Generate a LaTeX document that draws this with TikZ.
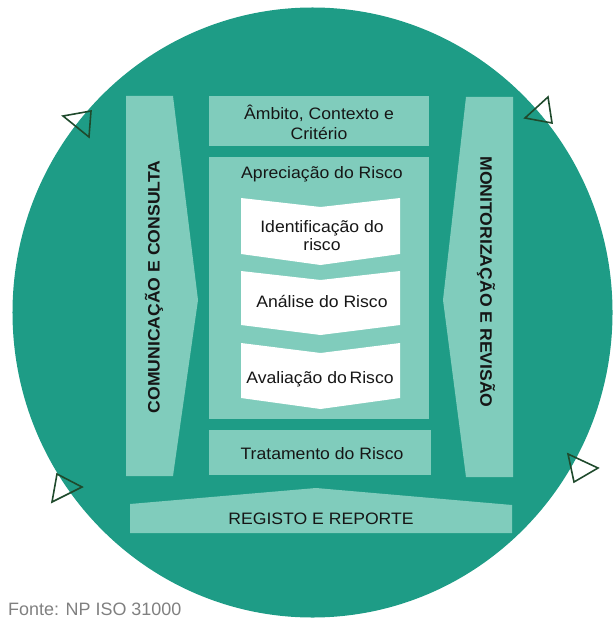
\documentclass[tikz,border=0pt]{standalone}
\usepackage{fontspec}
\setmainfont{Liberation Sans}
\newfontfamily\diagfont{Liberation Sans}[FakeStretch=1.065]
\definecolor{teal1}{HTML}{1E9C86}
\definecolor{light1}{HTML}{80CCBC}
\definecolor{txt1}{HTML}{161616}
\definecolor{tri1}{HTML}{1F4A2C}
\definecolor{gray1}{HTML}{808080}
\tikzset{
  band/.style={fill=light1, draw=none},
  chev/.style={fill=white, draw=none},
  lbl/.style={text=txt1, font=\diagfont\fontsize{16.6}{19}\selectfont, align=center, inner sep=0pt},
  blbl/.style={text=txt1, font=\diagfont\fontsize{16.6}{19}\selectfont\bfseries, inner sep=0pt},
  mark1/.style={draw=tri1, line width=1.6pt, line join=miter, fill=none}
}
\begin{document}
\begin{tikzpicture}[x=1bp,y=-1bp]
\useasboundingbox (0,0) rectangle (613,619);
% big circle
\fill[teal1] (312.5,312.5) ellipse [x radius=300bp, y radius=305bp];
% side bands
\fill[band] (126,96) -- (173,96) -- (198,300) -- (173,476) -- (126,476) -- cycle;
\fill[band] (466,97) -- (513,97) -- (513,477) -- (466,477) -- (443,300) -- cycle;
% central boxes
\fill[band] (209,96) rectangle (429,146);
\fill[band] (209,157) rectangle (429,419);
\fill[band] (209,430) rectangle (431,475);
% registo
\fill[band] (130,504) -- (316,488) -- (512,505) -- (512,533) -- (130,533) -- cycle;
% chevrons
\fill[chev] (241,198) -- (320.5,207) -- (400,198) -- (400,254) -- (320.5,265) -- (241,254) -- cycle;
\fill[chev] (241,271) -- (320.5,280) -- (400,271) -- (400,325) -- (320.5,335) -- (241,325) -- cycle;
\fill[chev] (241,343) -- (320.5,353) -- (400,343) -- (400,398) -- (320.5,409) -- (241,398) -- cycle;
% texts
\begin{scope}
\clip (209,96) rectangle (429,140);
\node[lbl, anchor=base] (amb1) at (319,120) {Âmbito, Contexto e};
\node[lbl, anchor=base] (amb2) at (319,140) {Critério};
\end{scope}
\node[lbl, anchor=base] (apr) at (322,179) {Apreciação do Risco};
\node[lbl, anchor=base] (id1) at (322,232) {Identificação do};
\node[lbl, anchor=base] (id2) at (322,250) {risco};
\node[lbl, anchor=base] (ana) at (322,307) {Análise do Risco};
\node[lbl, anchor=base] (ava) at (320,383) {Avaliação do\,Risco};
\node[lbl, anchor=base] (tra) at (322,459) {Tratamento do Risco};
\node[lbl, anchor=base] (reg) at (321,524) {REGISTO E REPORTE};
\node[blbl, rotate=90] (com) at (154,287) {COMUNICAÇÃO E CONSULTA};
\node[blbl, rotate=-90] (mon) at (486,282) {MONITORIZAÇÃO E REVISÃO};
\node[text=gray1, font=\fontsize{18}{20}\selectfont, anchor=base west, inner sep=0pt] (src) at (8,615) {Fonte: NP ISO 31000};
% triangles
\draw[mark1] (63,116) -- (91,111) -- (89,137) -- cycle;
\draw[mark1] (525,118) -- (548,97) -- (552,123) -- cycle;
\draw[mark1] (57,474) -- (82,487) -- (52,502) -- cycle;
\draw[mark1] (568,454) -- (598,468) -- (574,482) -- cycle;
\end{tikzpicture}
\end{document}
